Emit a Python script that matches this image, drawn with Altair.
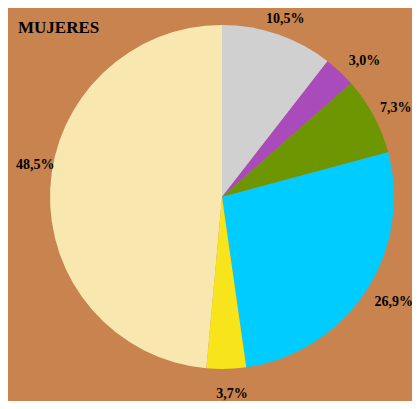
import altair as alt
import pandas as pd

categories = ["A", "B", "C", "D", "E", "F"]
values = [10.5, 3.0, 7.3, 26.9, 3.7, 48.5]
labels = ["10,5%", "3,0%", "7,3%", "26,9%", "3,7%", "48,5%"]
colors = ["#D0D0D0", "#A94BBB", "#6E9602", "#00CCFF", "#F7E41A", "#F8E8B0"]

df = pd.DataFrame({"cat": categories, "value": values, "label": labels,
                   "order": list(range(len(categories)))})

CX, CY = 214, 189

base = alt.Chart(df).encode(
    theta=alt.Theta("value:Q", stack=True),
    order=alt.Order("order:Q"),
)

pie = base.mark_arc(radius=172).encode(
    x=alt.value(CX), y=alt.value(CY),
    color=alt.Color("cat:N", scale=alt.Scale(domain=categories, range=colors), legend=None),
)

# small per-label nudges (pixels) from the default polar label position
nudges = {"A": (0, 6), "B": (9, 6), "C": (2, 3), "D": (9, -2), "E": (5, 2), "F": (8, -23)}

text_layers = []
for cat, (ndx, ndy) in nudges.items():
    t = base.mark_text(radius=195, font="Liberation Serif", fontWeight="bold",
                       fontSize=14, color="#000000", dx=ndx, dy=ndy).encode(
        x=alt.value(CX), y=alt.value(CY),
        text="label:N",
        opacity=alt.condition(alt.datum.cat == cat, alt.value(1), alt.value(0)),
    )
    text_layers.append(t)

title = alt.Chart(pd.DataFrame({"t": ["MUJERES"]})).mark_text(
    font="Liberation Serif", fontWeight="bold", fontSize=17, align="left",
    baseline="alphabetic", color="#000000"
).encode(x=alt.value(10), y=alt.value(25), text="t:N")

chart = alt.layer(pie, *text_layers, title).properties(
    width=404, height=393, padding=0, autosize=alt.AutoSizeParams(type="none"),
    background="#C8834F"
).configure_view(stroke=None)

chart.save("out.html", embed_options={"renderer": "svg", "actions": False})
